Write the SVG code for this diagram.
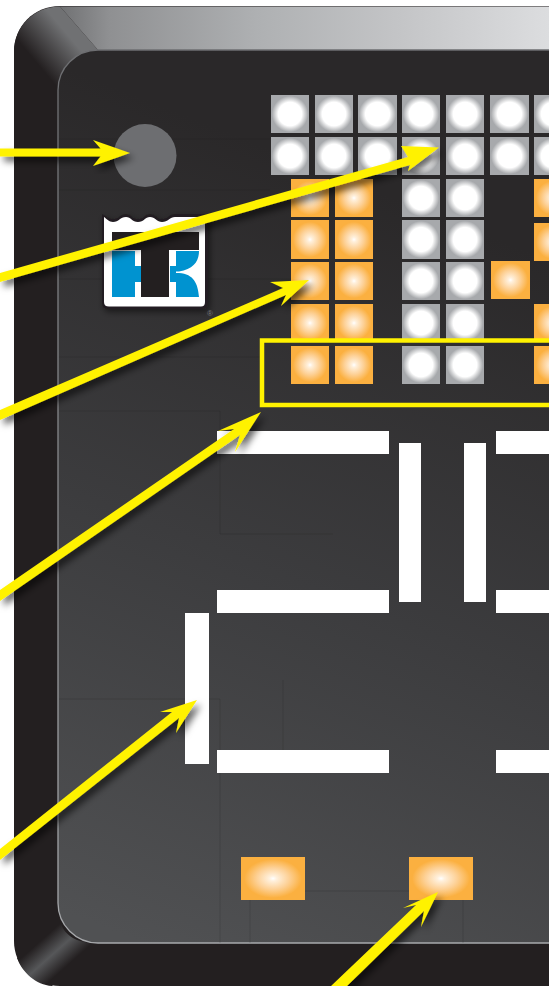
<svg xmlns="http://www.w3.org/2000/svg" width="549" height="986" viewBox="0 0 549 986">
<style>
.w{fill:url(#gw)}.o{fill:url(#go)}.b{fill:#fff}.a{fill:#fff200;filter:url(#sh)}.s{fill:none;stroke:#1f1d1e;stroke-opacity:.22;stroke-width:.8}
</style>
<defs>
<radialGradient id="gw"><stop offset="0" stop-color="#fff"/><stop offset=".62" stop-color="#fff"/><stop offset=".95" stop-color="#a7a9ac"/><stop offset="1" stop-color="#a7a9ac"/></radialGradient>
<radialGradient id="go"><stop offset="0" stop-color="#fff"/><stop offset=".12" stop-color="#fff0dc"/><stop offset=".5" stop-color="#fdd197"/><stop offset=".9" stop-color="#fbb040"/><stop offset="1" stop-color="#fbb040"/></radialGradient>
<linearGradient id="top" gradientUnits="userSpaceOnUse" x1="60" x2="549" y1="0" y2="0"><stop offset="0" stop-color="#707173"/><stop offset=".1" stop-color="#8f9092"/><stop offset=".4" stop-color="#aeb0b2"/><stop offset=".7" stop-color="#c4c5c7"/><stop offset="1" stop-color="#dcdddf"/></linearGradient>
<linearGradient id="cor" gradientUnits="userSpaceOnUse" x1="30" y1="55" x2="62" y2="28"><stop offset="0" stop-color="#231f20"/><stop offset="1" stop-color="#707173"/></linearGradient>
<linearGradient id="cb" gradientUnits="userSpaceOnUse" x1="36" y1="945" x2="60" y2="972"><stop offset="0" stop-color="#231f20"/><stop offset=".5" stop-color="#565759"/><stop offset="1" stop-color="#231f20"/></linearGradient>
<linearGradient id="pan" gradientUnits="userSpaceOnUse" x1="400" y1="200" x2="110" y2="930"><stop offset="0" stop-color="#2a2829"/><stop offset=".5" stop-color="#3c3c3e"/><stop offset="1" stop-color="#505153"/></linearGradient>
<linearGradient id="edge" gradientUnits="userSpaceOnUse" x1="0" y1="50" x2="0" y2="943"><stop offset="0" stop-color="#6d6e71"/><stop offset="1" stop-color="#a7a9ac"/></linearGradient>
<filter id="sh" x="-30%" y="-30%" width="160%" height="160%"><feDropShadow dx="4" dy="5" stdDeviation="3.500" flood-color="#000" flood-opacity=".6"/></filter>
<filter id="sl" x="-20%" y="-20%" width="140%" height="140%"><feDropShadow dx="2" dy="3" stdDeviation="3" flood-color="#000" flood-opacity=".5"/></filter>
</defs>
<rect width="549" height="986" fill="#fff"/>
<g id="bezel">
<path d="M549,6H60C34,6 14,26 14,52V941C14,966 34,986 60,986H549Z" fill="#231f20"/>
<path d="M549,6.500H60L98,50H549Z" fill="url(#top)"/>
<path d="M14,52C14,27 34,6.500 60,6.500L98,50C76,50 58,68 58,90Z" fill="url(#cor)"/>
<path d="M17,958C22,972 36,985 52,986L96,943C76,943 63,935 60,920Z" fill="url(#cb)"/>
</g>
<g id="panel">
<path d="M549,50H98C76,50 58,68 58,90V903C58,925 76,943 98,943H549Z" fill="url(#pan)"/>
<path d="M549,50H98C76,50 58,68 58,90V903C58,925 76,943 98,943H549" fill="none" stroke="url(#edge)" stroke-width="1.300"/>
<path class="s" d="M59,139H270M59,190H270M59,279H292M59,357H262M59,411H220V534H333M59,699H220V943M283,680V750M250,900V943M305,891H409M463,900V943"/>
</g>
<g id="button"><circle cx="145" cy="155.500" r="31.500" fill="#6d6e71"/></g>
<g id="logo">
<path d="M102,214C107,216 108,219 113,219C119,219 120,214 126,214C131,214 132,219 138,219C144,219 145,214 150,214C155,214 157,219 162,219C168,219 169,214 175,214H208V303Q208,309 202,309H108Q102,309 102,303Z" fill="#231f20" filter="url(#sl)"/>
<path d="M104,217C107,219 109,222 113,222C119,222 120,217 126,217C131,217 132,222 138,222C144,222 145,217 150,217C155,217 157,222 162,222C168,222 170,217 175,217H205V302Q205,306.500 201,306.500H109Q104,306.500 104,302Z" fill="#fff"/>
<path d="M112,232H199V250H169V297H141V250H112Z" fill="#231f20"/>
<path d="M112,251H135V266H141V282H135V297H112Z" fill="#0093d0"/>
<path d="M176,251H199C199,261 194,269 179,271.500H176V273H179C194,274 198,284 199,297H176V282H170V266H176Z" fill="#0093d0"/>
<text x="207" y="316" font-family="Liberation Sans, sans-serif" font-size="8" fill="#77787b">®</text>
</g>
<g id="cells-white">
<rect class="w" x="271" y="95" width="38" height="38"/><rect class="w" x="315" y="95" width="38" height="38"/><rect class="w" x="358" y="95" width="39" height="38"/><rect class="w" x="402" y="95" width="38" height="38"/><rect class="w" x="446" y="95" width="38" height="38"/><rect class="w" x="490" y="95" width="39" height="38"/><rect class="w" x="534" y="95" width="38" height="38"/>
<rect class="w" x="271" y="137" width="38" height="38"/><rect class="w" x="315" y="137" width="38" height="38"/><rect class="w" x="358" y="137" width="39" height="38"/><rect class="w" x="402" y="137" width="38" height="38"/><rect class="w" x="446" y="137" width="38" height="38"/><rect class="w" x="490" y="137" width="39" height="38"/><rect class="w" x="534" y="137" width="38" height="38"/>
<rect class="w" x="402" y="179" width="38" height="38"/><rect class="w" x="446" y="179" width="38" height="38"/>
<rect class="w" x="402" y="220" width="38" height="39"/><rect class="w" x="446" y="220" width="38" height="39"/>
<rect class="w" x="402" y="262" width="38" height="38"/><rect class="w" x="446" y="262" width="38" height="38"/>
<rect class="w" x="402" y="304" width="38" height="38"/><rect class="w" x="446" y="304" width="38" height="38"/>
<rect class="w" x="402" y="346" width="38" height="38"/><rect class="w" x="446" y="346" width="38" height="38"/>
</g>
<g id="cells-orange">
<rect class="o" x="291" y="179" width="38" height="38"/><rect class="o" x="335" y="179" width="38" height="38"/>
<rect class="o" x="291" y="220" width="38" height="39"/><rect class="o" x="335" y="220" width="38" height="39"/>
<rect class="o" x="291" y="262" width="38" height="38"/><rect class="o" x="335" y="262" width="38" height="38"/>
<rect class="o" x="291" y="304" width="38" height="38"/><rect class="o" x="335" y="304" width="38" height="38"/>
<rect class="o" x="291" y="346" width="38" height="38"/><rect class="o" x="335" y="346" width="38" height="38"/>
<rect class="o" x="491" y="261" width="39" height="38"/>
<rect class="o" x="534" y="179" width="38" height="38"/><rect class="o" x="534" y="223" width="38" height="38"/><rect class="o" x="534" y="304" width="38" height="38"/><rect class="o" x="534" y="346" width="38" height="38"/>
<rect class="o" x="241" y="857" width="64" height="43"/><rect class="o" x="409" y="857" width="64" height="43"/>
</g>
<g id="segments">
<rect class="b" x="217" y="431" width="172" height="23"/><rect class="b" x="496" y="431" width="53" height="23"/>
<rect class="b" x="399" y="443" width="22" height="159"/><rect class="b" x="464" y="443" width="22" height="159"/>
<rect class="b" x="217" y="590" width="172" height="23"/><rect class="b" x="496" y="590" width="53" height="23"/>
<rect class="b" x="185" y="613" width="24" height="151"/>
<rect class="b" x="217" y="750" width="172" height="23"/><rect class="b" x="496" y="750" width="53" height="23"/>
</g>
<g id="highlight"><rect x="262" y="340.500" width="300" height="64.500" fill="none" stroke="#fff200" stroke-width="4.500"/></g>
<g id="connectors">
<path class="a" d="M0,148.500H100.500L93,140L130,153L93,166L100.500,156.500H0Z"/>
<path class="a" d="M0,273L408,157L401,146L439,147.500L408,171L410,165L0,282Z"/>
<path class="a" d="M0,410L283,288L270,282L309,280L281,306L286,295L0,420Z"/>
<path class="a" d="M0,590L234,429L218,431L261,412L235,452L240,435L0,601Z"/>
<path class="a" d="M0,849L172,712L160,712L197,700L176,733L179,718L0,860Z"/>
<path class="a" d="M331,986L416,905L403,908L438,892L421,927L424,911L347,986Z"/>
</g>
</svg>
